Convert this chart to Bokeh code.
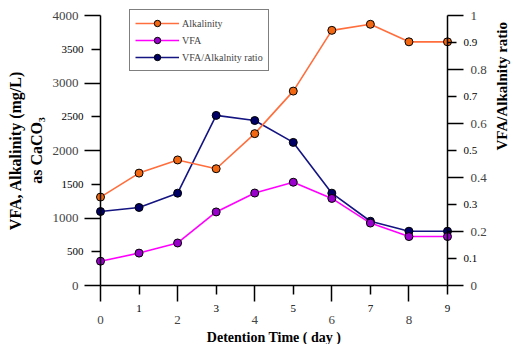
import math

from bokeh.plotting import figure
from bokeh.models import (Range1d, LinearAxis, FixedTicker, Legend, LegendItem,
                          ColumnDataSource, LabelSet, NumeralTickFormatter)
from bokeh.embed import file_html
from bokeh.resources import INLINE

# Detention time (days) and measured values
days = [0, 1, 2, 3, 4, 5, 6, 7, 8, 9]
alkalinity = [1310, 1665, 1860, 1730, 2250, 2880, 3780, 3870, 3610, 3610]
vfa = [360, 480, 630, 1090, 1370, 1530, 1290, 925, 725, 725]
ratio = [0.274, 0.289, 0.342, 0.630, 0.611, 0.530, 0.342, 0.238, 0.201, 0.201]

# Tick positions (long ticks carry the larger labels)
day_major = [0, 2, 4, 6, 8]
day_minor = [1, 3, 5, 7, 9]
conc_major = [0, 1000, 2000, 3000, 4000]
conc_minor = [500, 1500, 2500, 3500]
ratio_major = [0, 0.2, 0.4, 0.6, 0.8, 1.0]
ratio_minor = [0.1, 0.3, 0.5, 0.7, 0.9]

SERIF = "Liberation Serif"
BIG = "13px"
SMALL = "11px"

# Canvas size and where the axes sit on it (pixels)
W, H = 512, 344
AX_LEFT, AX_RIGHT, AX_TOP, AX_BOTTOM = 100, 447, 15, 285

# The frame fills the whole canvas; axes are pinned at the data edges so that
# the end markers and all labels are drawn in full.
d0, d1 = days[0], days[-1]
c0, c1 = conc_major[0], conc_major[-1]
r0, r1 = ratio_major[0], ratio_major[-1]
px_day = (AX_RIGHT - AX_LEFT) / (d1 - d0)
px_conc = (AX_BOTTOM - AX_TOP) / (c1 - c0)
px_ratio = (AX_BOTTOM - AX_TOP) / (r1 - r0)

x_range = Range1d(d0 - AX_LEFT / px_day, d1 + (W - AX_RIGHT) / px_day)
y_range = Range1d(c0 - (H - AX_BOTTOM) / px_conc, c1 + AX_TOP / px_conc)
ratio_range = Range1d(r0 - (H - AX_BOTTOM) / px_ratio, r1 + AX_TOP / px_ratio)

p = figure(width=W, height=H, output_backend="svg", toolbar_location=None,
           title=None, x_range=x_range, y_range=y_range,
           x_axis_location=None, y_axis_location=None,
           min_border_left=0, min_border_right=0,
           min_border_top=0, min_border_bottom=0)
p.extra_y_ranges = {"ratio": ratio_range}
p.outline_line_color = None
p.xgrid.visible = False
p.ygrid.visible = False
p.background_fill_color = "white"
p.border_fill_color = "white"


def style_axis(ax, label_size):
    ax.axis_line_width = 1.5
    ax.major_tick_line_width = 1.5
    ax.minor_tick_line_width = 1.5
    ax.major_tick_in = 0
    ax.minor_tick_in = 0
    ax.major_tick_out = 16
    ax.minor_tick_out = 9
    ax.major_label_text_font = SERIF
    ax.major_label_text_font_size = BIG
    ax.axis_label_text_font = SERIF
    ax.axis_label_text_font_style = "bold"
    ax.axis_label_text_font_size = label_size
    ax.axis_label_text_color = "black"


xaxis = LinearAxis(ticker=FixedTicker(ticks=day_major, minor_ticks=day_minor),
                   fixed_location=c0, bounds=(d0, d1),
                   axis_label="Detention Time ( day )")
style_axis(xaxis, "14px")
xaxis.major_label_standoff = 14
xaxis.axis_label_standoff = 3
p.add_layout(xaxis, "below")

yaxis = LinearAxis(ticker=FixedTicker(ticks=conc_major, minor_ticks=conc_minor),
                   fixed_location=d0, bounds=(c0, c1),
                   axis_label="VFA, Alkalinity (mg/L)\nas CaCO\u2083")
style_axis(yaxis, "16px")
yaxis.major_label_standoff = 6
yaxis.axis_label_standoff = 5
p.add_layout(yaxis, "left")

raxis = LinearAxis(ticker=FixedTicker(ticks=ratio_major, minor_ticks=ratio_minor),
                   fixed_location=d1, bounds=(r0, r1), y_range_name="ratio",
                   formatter=NumeralTickFormatter(format="0.[0]"),
                   axis_label="VFA/Alkalnity ratio")
style_axis(raxis, "15px")
raxis.major_label_standoff = 7
raxis.axis_label_standoff = 12
# read the right-hand title upwards, like the left one
raxis.axis_label_orientation = math.pi / 2
p.add_layout(raxis, "right")

# Labels at the short ticks, set in a smaller size
label_style = dict(text_font=SERIF, text_font_size=SMALL, text_color="black")

left_minor = ColumnDataSource(dict(v=conc_minor, t=[str(v) for v in conc_minor]))
p.add_layout(LabelSet(x=d0, y="v", text="t", source=left_minor, x_offset=-17,
                      text_align="right", text_baseline="middle", **label_style))

right_minor = ColumnDataSource(dict(v=ratio_minor, t=[f"{v:.1f}" for v in ratio_minor]))
p.add_layout(LabelSet(x=d1, y="v", text="t", source=right_minor, x_offset=16,
                      y_range_name="ratio",
                      text_align="left", text_baseline="middle", **label_style))

bottom_minor = ColumnDataSource(dict(v=day_minor, t=[str(v) for v in day_minor]))
p.add_layout(LabelSet(x="v", y=c0, text="t", source=bottom_minor, y_offset=-19,
                      text_align="center", text_baseline="top", **label_style))

src = ColumnDataSource(dict(day=days, alk=alkalinity, vfa=vfa, ratio=ratio))

# ratio underneath, then VFA, alkalinity on top
rat_line = p.line("day", "ratio", source=src, y_range_name="ratio",
                  line_color="#141482", line_width=1.6)
rat_pts = p.scatter("day", "ratio", source=src, y_range_name="ratio", size=8,
                    fill_color="#000066", line_color="black", line_width=1)
vfa_line = p.line("day", "vfa", source=src, line_color="#FF00FF", line_width=1.6)
vfa_pts = p.scatter("day", "vfa", source=src, size=8, fill_color="#9900CC",
                    line_color="black", line_width=1)
alk_line = p.line("day", "alk", source=src, line_color="#FF6E3C", line_width=1.6)
alk_pts = p.scatter("day", "alk", source=src, size=8, fill_color="#F26711",
                    line_color="black", line_width=1)

legend = Legend(items=[
    LegendItem(label="Alkalinity", renderers=[alk_line, alk_pts]),
    LegendItem(label="VFA", renderers=[vfa_line, vfa_pts]),
    LegendItem(label="VFA/Alkalnity ratio", renderers=[rat_line, rat_pts]),
], location=(129, 273))
legend.label_text_font = SERIF
legend.label_text_font_size = "10px"
legend.glyph_width = 44
legend.glyph_height = 16
legend.label_height = 16
legend.label_standoff = 3
legend.padding = 5
legend.spacing = 1
legend.margin = 0
legend.border_line_color = "black"
legend.border_line_width = 1
legend.background_fill_alpha = 1
p.add_layout(legend)

open("out.html", "w").write(file_html(p, INLINE))
